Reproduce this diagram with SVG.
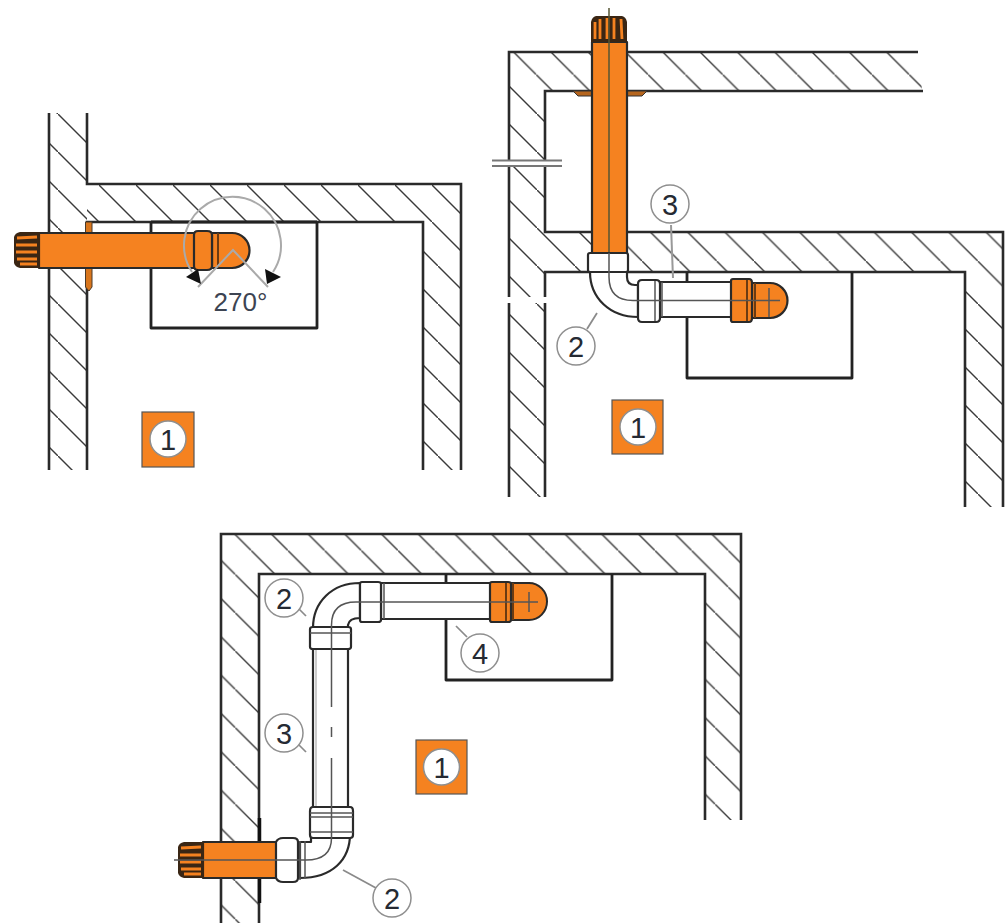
<svg xmlns="http://www.w3.org/2000/svg" xmlns:xlink="http://www.w3.org/1999/xlink" width="1005" height="923" viewBox="0 0 1005 923">
<style>
.w{fill:none;stroke:#2a2a2a;stroke-width:2.600}
.b{fill:none;stroke:#222;stroke-width:2.800;stroke-linejoin:round}
.o{fill:#f58220;stroke:#2a2a2a;stroke-width:2.200;stroke-linejoin:round}
.p{fill:#fff;stroke:#2a2a2a;stroke-width:2.200;stroke-linejoin:round}
.c{fill:none;stroke:#555;stroke-width:1.500}
.d{fill:none;stroke:#6b3b12;stroke-width:2}
.l{fill:none;stroke:#8a8a8a;stroke-width:1.700}
.n circle{fill:#fff;stroke:#8f8f8f;stroke-width:1.500}
text{font-family:"Liberation Sans",Arial,sans-serif;fill:#252a33;text-anchor:middle}
.n text{font-size:29px}
.s{fill:#f58220;stroke:#555;stroke-width:1.200}
.hl{stroke:#3a3a3a;stroke-width:1.400;fill:none}
</style>
<defs>
<pattern id="h1t" width="37" height="37" patternUnits="userSpaceOnUse" patternTransform="translate(25 0)"><path class="hl" d="M-2-2L39 39"/></pattern>
<pattern id="h1s" width="38" height="38" patternUnits="userSpaceOnUse" patternTransform="translate(20 0)"><path class="hl" d="M-2-2L40 40"/></pattern>
<pattern id="h2t" width="37.300" height="37.300" patternUnits="userSpaceOnUse" patternTransform="translate(14 0)"><path class="hl" d="M-2-2L40 40"/></pattern>
<pattern id="h2l" width="38" height="38" patternUnits="userSpaceOnUse" patternTransform="translate(5 0)"><path class="hl" d="M-2-2L40 40"/></pattern>
<pattern id="h2m" width="37.300" height="37.300" patternUnits="userSpaceOnUse" patternTransform="translate(8 0)"><path class="hl" d="M-2-2L40 40"/></pattern>
<pattern id="h2r" width="38" height="38" patternUnits="userSpaceOnUse" patternTransform="translate(28 0)"><path class="hl" d="M-2-2L40 40"/></pattern>
<pattern id="h3t" width="36.700" height="36.700" patternUnits="userSpaceOnUse" patternTransform="translate(31 0)"><path class="hl" d="M-2-2L39 39"/></pattern>
<pattern id="h3l" width="38.300" height="38.300" patternUnits="userSpaceOnUse" patternTransform="translate(5.500 0)"><path class="hl" d="M-2-2L41 41"/></pattern>
<pattern id="h3r" width="38.300" height="38.300" patternUnits="userSpaceOnUse" patternTransform="translate(25.800 0)"><path class="hl" d="M-2-2L41 41"/></pattern>
<g id="cap">
<path d="M0 5Q1 1 6 0H26V36H6Q1 35 0 31Z" fill="#3a2614"/>
<path d="M3 6L23 5M2 13L23 13M2 20L23 20M3 27L23 27M6 32L23 32" stroke="#f58220" stroke-width="2.800" fill="none"/>
</g>
</defs>

<g id="building-1">
<rect x="49" y="113" width="38" height="357" fill="url(#h1s)"/>
<path d="M87 184H461V256L423 222H87Z" fill="url(#h1t)"/>
<path d="M423 222L461 256V470H423Z" fill="url(#h1s)"/>
<path class="w" d="M49 113V470M87 113V184H461V470M87 470V222H423V470"/>
<path class="b" d="M151 222V328H317V222M151 222H317"/>
</g>

<g id="building-2">
<path d="M509 52H919L922 91H545L509 75Z" fill="url(#h2t)"/>
<path d="M509 75L545 91V497H509Z" fill="url(#h2l)"/>
<path d="M592 232H1003V300L965 272H592Z" fill="url(#h2m)"/>
<path d="M545 232H592V272H545Z" fill="url(#h2l)"/>
<path d="M965 272L1003 300V507H965Z" fill="url(#h2r)"/>
<path class="w" d="M509 497V52H918M923 91H545V232H1003V507M965 507V272H545V497"/>
<path class="b" d="M687 272V378H852V272"/>
<rect x="505" y="297" width="44" height="6" fill="#fff"/>
<rect x="492" y="161" width="70" height="5" fill="#fff"/>
<path d="M492 160.500H562M492 166H562" stroke="#777" stroke-width="1.800" fill="none"/>
</g>

<g id="building-3">
<path d="M221 534H741V600L705 574H259L221 552Z" fill="url(#h3t)"/>
<path d="M221 552L259 574V923H221Z" fill="url(#h3l)"/>
<path d="M705 574L741 600V820H705Z" fill="url(#h3r)"/>
<path class="w" d="M221 923V534H741V820M705 820V574H259V923"/>
<path class="b" d="M446 574V680H612V574"/>
</g>

<g id="pipe-1">
<path d="M85.500 222H92V287L89 291L85.500 287Z" fill="#d9761c" stroke="#4a3a2a" stroke-width="1"/>
<rect class="o" x="39" y="233" width="156" height="35"/>
<use xlink:href="#cap" href="#cap" x="14" y="232"/>
<path class="o" d="M212 233H232A17.500 17.500 0 0 1 232 268H212Z"/>
<path class="o" d="M194 235Q194 231 198 231H207Q212 231 212 235V266Q212 270 207 270H198Q194 270 194 266Z"/>
<path class="d" d="M218 233V268"/>
</g>

<g id="angle-270">
<path d="M192 272A48.500 48.500 0 1 1 273 272" fill="none" stroke="#aaa" stroke-width="2"/>
<path d="M198 287L233 250L268 287" fill="none" stroke="#aaa" stroke-width="2"/>
<path d="M186 277L198 269L201 284Z" fill="#111"/>
<path d="M265 269L281 277L267 284Z" fill="#111"/>
<text x="240.500" y="311" style="font-size:26px;fill:#3d4452">270°</text>
</g>

<g id="pipe-2">
<path d="M573 91H592V96H578ZM627 91H647L642 96H627Z" fill="#b5651d" stroke="#333" stroke-width="1"/>
<rect class="o" x="592" y="42" width="35" height="211"/>
<use xlink:href="#cap" href="#cap" transform="translate(591 42) rotate(90) translate(-26 -36)"/>
<path d="M609 8V253" stroke="#553" stroke-width="1.500"/>
<path class="p" d="M590 272C590 298 610 317 638 317V285H635Q627 285 627 277V272Z"/>
<path class="p" d="M588 255Q588 253 590 253H626Q628 253 628 255V270Q628 272 626 272H590Q588 272 588 270Z"/>
<rect class="p" x="660" y="282" width="72" height="35"/>
<path class="p" d="M638 284Q638 280 642 280H656Q660 280 660 284V318Q660 322 656 322H642Q638 322 638 318Z"/>
<path class="c" d="M655 281V321M662 282V317"/>
<path class="o" d="M752 283H770A17.500 17.500 0 0 1 770 318H752Z"/>
<path class="o" d="M731 281Q731 279 733 279H749Q752 279 752 283V318Q752 322 749 322H733Q731 322 731 320Z"/>
<path class="d" d="M747 280V321M755 283V318"/>
<path class="c" d="M609 253V277Q609 300.500 633 300.500H780M769 288V317"/>
</g>

<g id="pipe-3">
<rect class="p" x="381" y="583" width="110" height="36"/>
<path class="p" d="M360 583C332 583 313 602 313 628H348V625Q349 618 360 618Z"/>
<path class="p" d="M360 584Q360 582 362 582H378Q381 582 381 584V620Q381 622 378 622H362Q360 622 360 620Z"/>
<path class="c" d="M384 583V619"/>
<rect class="p" x="313" y="648" width="35" height="160"/>
<path d="M316 649V807" fill="none" stroke="#aaa" stroke-width="1.200"/>
<path class="p" d="M310 629Q310 627 313 627H348Q351 627 351 629V647Q351 649 348 649H313Q310 649 310 647Z"/>
<path class="c" d="M310 633H351"/>
<path class="p" d="M300 842H311V834H350C350 860 332 878 300 878Z"/>
<path class="p" d="M310 811Q310 807 313 807H350Q353 807 353 811V835Q353 838 350 838H313Q310 838 310 835Z"/>
<path class="c" d="M310 813H353M310 817H353M310 832H353"/>
<path class="o" d="M511 583H529A18 18.500 0 0 1 529 620H511Z" style="stroke-width:2"/>
<path class="o" d="M490 584Q490 582 492 582H508Q511 582 511 584V620Q511 622 508 622H492Q490 622 490 620Z"/>
<path class="d" d="M506 583V621M513 583V620"/>
<path class="c" d="M331.500 649V625Q331.500 602 356 602H538M529 592V612"/>
<path class="c" d="M331.500 649V707M331.500 727V737M331.500 758V807V838Q331.500 860 306 860"/>
<path d="M259.500 818V903" stroke="#111" stroke-width="3.500"/>
<rect class="o" x="203" y="842" width="74" height="36"/>
<use xlink:href="#cap" href="#cap" x="178" y="842"/>
<path class="p" d="M276 842Q278 838 283 838H293Q298 838 298 842V878Q298 882 293 882H283Q278 882 276 878Z"/>
<path class="c" d="M300 841V880M305 841V879M174 860H306"/>
</g>

<g id="connectors">
<path class="l" d="M671 225L673 278" style="stroke:#999;stroke-width:2"/>
<path class="l" d="M597 313L587 329"/>
<path class="l" d="M298 608L306 616"/>
<path class="l" d="M456 626L467 637"/>
<path class="l" d="M298 744L306 752"/>
<path class="l" d="M343 870L376 888"/>
</g>

<g id="badge-1a"><rect class="s" x="142" y="412" width="52" height="55"/></g>
<g id="badge-1b"><rect class="s" x="612" y="400" width="51" height="54"/></g>
<g id="badge-1c"><rect class="s" x="416" y="740" width="51" height="54"/></g>
<g class="n" id="label-1a"><circle cx="168" cy="439" r="18"/><text x="168" y="449.500">1</text></g>
<g class="n" id="label-1b"><circle cx="638" cy="427" r="18"/><text x="638" y="437.500">1</text></g>
<g class="n" id="label-1c"><circle cx="441.500" cy="767" r="18"/><text x="441.500" y="777.500">1</text></g>
<g class="n" id="label-3a"><circle cx="670" cy="204" r="19"/><text x="670" y="214.500">3</text></g>
<g class="n" id="label-2a"><circle cx="576" cy="346" r="19"/><text x="576" y="356.500">2</text></g>
<g class="n" id="label-2b"><circle cx="284" cy="598" r="19"/><text x="284" y="608.500">2</text></g>
<g class="n" id="label-4"><circle cx="480" cy="653" r="19"/><text x="480" y="663.500">4</text></g>
<g class="n" id="label-3b"><circle cx="284" cy="733" r="19"/><text x="284" y="743.500">3</text></g>
<g class="n" id="label-2c"><circle cx="392" cy="898" r="19"/><text x="392" y="908.500">2</text></g>
</svg>
